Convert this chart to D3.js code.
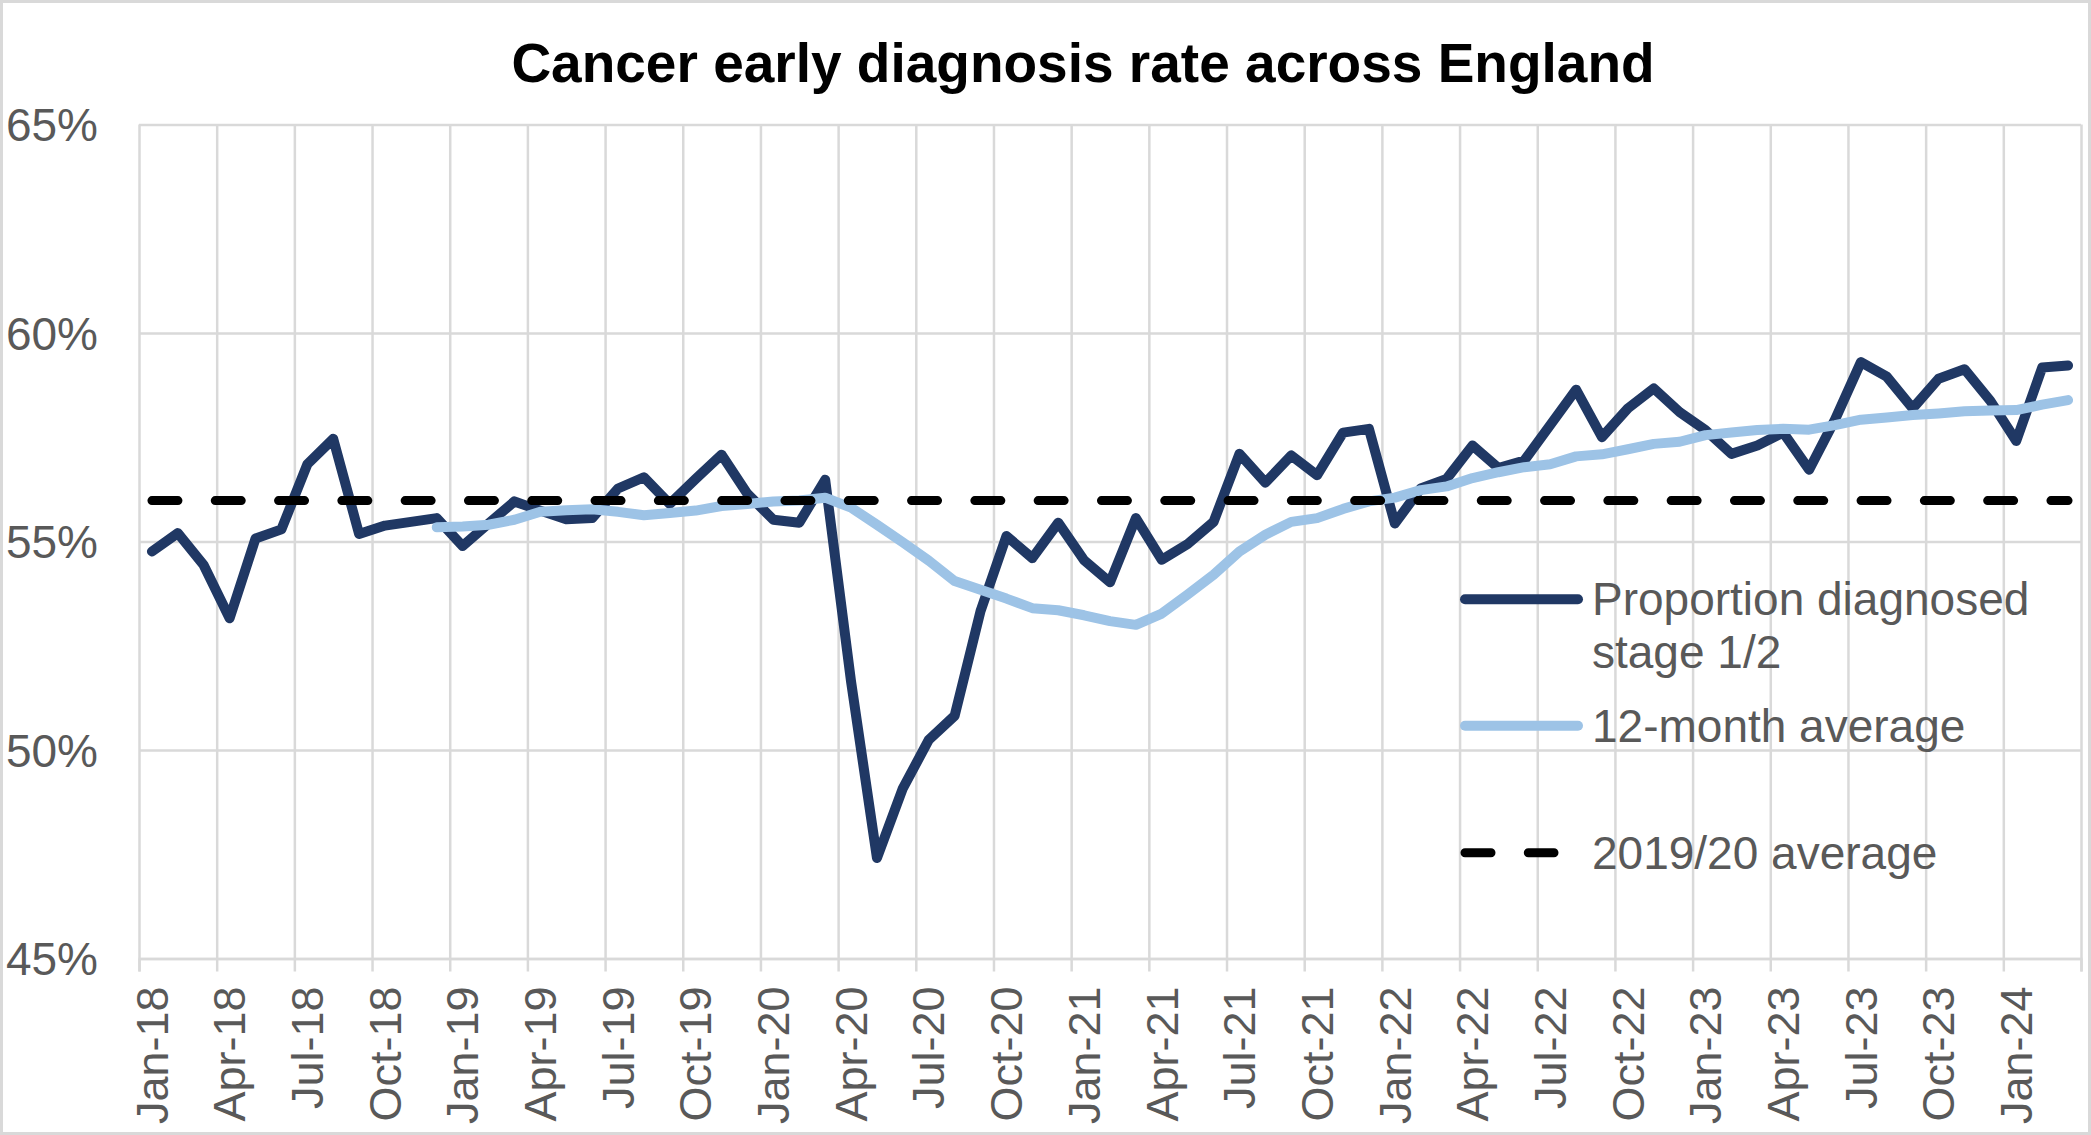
<html>
<head>
<meta charset="utf-8">
<style>
body { margin: 0; background: #fff; }
text { font-family: "Liberation Sans", Arial, sans-serif; }
</style>
<script src="https://d3js.org/d3.v7.min.js"></script>
</head>
<body>
<div id="chart"></div>
<script>
// months Jan-18 .. Mar-24
const months = [
  "2018-01","2018-02","2018-03","2018-04","2018-05","2018-06","2018-07","2018-08","2018-09","2018-10","2018-11","2018-12",
  "2019-01","2019-02","2019-03","2019-04","2019-05","2019-06","2019-07","2019-08","2019-09","2019-10","2019-11","2019-12",
  "2020-01","2020-02","2020-03","2020-04","2020-05","2020-06","2020-07","2020-08","2020-09","2020-10","2020-11","2020-12",
  "2021-01","2021-02","2021-03","2021-04","2021-05","2021-06","2021-07","2021-08","2021-09","2021-10","2021-11","2021-12",
  "2022-01","2022-02","2022-03","2022-04","2022-05","2022-06","2022-07","2022-08","2022-09","2022-10","2022-11","2022-12",
  "2023-01","2023-02","2023-03","2023-04","2023-05","2023-06","2023-07","2023-08","2023-09","2023-10","2023-11","2023-12",
  "2024-01","2024-02","2024-03"
];

// proportion diagnosed at stage 1/2 (%)
const stage12 = [
  54.76,55.20,54.43,53.16,55.07,55.29,56.85,57.46,55.18,55.38,55.47,55.56,
  54.89,55.43,55.96,55.74,55.53,55.56,56.27,56.54,55.90,56.50,57.08,56.14,
  55.52,55.45,56.48,51.64,47.41,49.08,50.24,50.82,53.33,55.13,54.60,55.45,
  54.55,54.02,55.56,54.56,54.94,55.47,57.10,56.41,57.06,56.59,57.61,57.70,
  55.43,56.27,56.50,57.30,56.76,56.94,57.79,58.64,57.50,58.19,58.67,58.10,
  57.67,57.10,57.30,57.61,56.72,57.92,59.30,58.95,58.19,58.90,59.13,58.37,
  57.41,59.17,59.22
];

// 12-month rolling average (%), starts Dec-18
const avg12 = [
  null,null,null,null,null,null,null,null,null,null,null,55.34,
  55.36,55.40,55.52,55.71,55.75,55.77,55.71,55.63,55.68,55.74,55.85,55.90,
  55.96,55.98,56.05,55.81,55.40,54.98,54.54,54.05,53.84,53.63,53.40,53.35,
  53.23,53.09,53.00,53.27,53.73,54.20,54.76,55.16,55.47,55.56,55.78,55.96,
  56.05,56.23,56.32,56.52,56.66,56.78,56.85,57.04,57.09,57.21,57.34,57.39,
  57.55,57.61,57.67,57.70,57.68,57.79,57.92,57.97,58.03,58.07,58.12,58.14,
  58.15,58.28,58.39
];

// 2019/20 average (%)
const baseline = 55.98;

const yTicks = [45, 50, 55, 60, 65];
const xLabels = ["Jan-18","Apr-18","Jul-18","Oct-18","Jan-19","Apr-19","Jul-19","Oct-19",
  "Jan-20","Apr-20","Jul-20","Oct-20","Jan-21","Apr-21","Jul-21","Oct-21",
  "Jan-22","Apr-22","Jul-22","Oct-22","Jan-23","Apr-23","Jul-23","Oct-23","Jan-24"];

const legendItems = [
  {lines: ["Proportion diagnosed", "stage 1/2"], color: "#203864", dash: null},
  {lines: ["12-month average"], color: "#9DC3E6", dash: null},
  {lines: ["2019/20 average"], color: "#000000", dash: "26,37.3"}
];

const w = 2091, h = 1135;
const plotL = 139, plotR = 2081, plotT = 124.4, plotB = 958.5;
const textGrey = "#595959", gridGrey = "#D9D9D9";

const svg = d3.select("#chart").append("svg")
  .attr("width", w).attr("height", h);

svg.append("rect")
  .attr("x", 1.5).attr("y", 1.5).attr("width", w - 3).attr("height", h - 3)
  .attr("fill", "#fff").attr("stroke", gridGrey).attr("stroke-width", 3);

const x = d3.scaleBand().domain(months).range([plotL, plotR]).padding(0);
const xIdx = d3.scaleLinear().domain([0, months.length]).range([plotL, plotR]);
const y = d3.scaleLinear().domain([45, 65]).range([plotB, plotT]);
const cx = m => x(m) + x.bandwidth() / 2;

// horizontal gridlines + y labels
const yAxis = svg.append("g")
  .attr("transform", `translate(${plotL},0)`)
  .call(d3.axisLeft(y).tickValues(yTicks).tickFormat(d => d + "%")
    .tickSize(-(plotR - plotL)).tickPadding(41));
yAxis.select(".domain").remove();
yAxis.selectAll("line").attr("stroke", gridGrey).attr("stroke-width", 2.5);
yAxis.selectAll("text").attr("fill", textGrey).style("font-size", "46px")
  .attr("dy", "0.35em");

// vertical gridlines every quarter
const gridTicks = d3.range(0, months.length + 1, 3);
const vGrid = svg.append("g")
  .attr("transform", `translate(0,${plotB})`)
  .call(d3.axisBottom(xIdx).tickValues(gridTicks).tickFormat("")
    .tickSize(-(plotB - plotT)));
vGrid.select(".domain").remove();
vGrid.selectAll("line").attr("stroke", gridGrey).attr("stroke-width", 2.5);

// small tick marks below axis
const tMarks = svg.append("g")
  .attr("transform", `translate(0,${plotB})`)
  .call(d3.axisBottom(xIdx).tickValues(gridTicks).tickFormat("").tickSize(13));
tMarks.select(".domain").attr("stroke", gridGrey).attr("stroke-width", 2.5);
tMarks.selectAll("line").attr("stroke", gridGrey).attr("stroke-width", 2.5);

// x labels (rotated)
const labelMonths = months.filter((m, i) => i % 3 === 0);
const xAxis = svg.append("g")
  .attr("transform", `translate(0,${plotB})`)
  .call(d3.axisBottom(x).tickValues(labelMonths)
    .tickFormat((d, i) => xLabels[i]).tickSize(0).tickPadding(0));
xAxis.select(".domain").remove();
xAxis.selectAll("text")
  .attr("fill", textGrey).style("font-size", "45px")
  .attr("text-anchor", "end")
  .attr("y", 0).attr("dy", "0.35em")
  .attr("transform", "translate(0,28) rotate(-90)");

// series
const line = d3.line()
  .defined(d => d[1] != null)
  .x(d => cx(d[0]))
  .y(d => y(d[1]));

svg.append("path")
  .datum(months.map((m, i) => [m, stage12[i]]))
  .attr("d", line)
  .attr("fill", "none").attr("stroke", "#203864").attr("stroke-width", 10)
  .attr("stroke-linejoin", "round").attr("stroke-linecap", "round");

svg.append("path")
  .datum(months.map((m, i) => [m, avg12[i]]))
  .attr("d", line)
  .attr("fill", "none").attr("stroke", "#9DC3E6").attr("stroke-width", 10)
  .attr("stroke-linejoin", "round").attr("stroke-linecap", "round");

svg.append("path")
  .datum(months.map(m => [m, baseline]))
  .attr("d", line)
  .attr("fill", "none").attr("stroke", "#000").attr("stroke-width", 9)
  .attr("stroke-dasharray", "26,37.3").attr("stroke-linecap", "round");

// title
svg.append("text")
  .attr("x", 1083).attr("y", 82)
  .attr("text-anchor", "middle")
  .style("font-size", "55px").style("font-weight", "bold")
  .attr("fill", "#000")
  .text("Cancer early diagnosis rate across England");

// legend
const legY = [599.3, 725.8, 852.7];
const lg = svg.append("g");
legendItems.forEach((it, i) => {
  lg.append("line")
    .attr("x1", 1465).attr("x2", it.dash ? 1554 : 1578)
    .attr("y1", legY[i]).attr("y2", legY[i])
    .attr("stroke", it.color).attr("stroke-width", it.dash ? 9 : 10)
    .attr("stroke-linecap", "round")
    .attr("stroke-dasharray", it.dash);
  const t = lg.append("text")
    .attr("x", 1592).attr("y", legY[i] + 16)
    .attr("fill", textGrey).style("font-size", "46px");
  it.lines.forEach((s, k) => {
    t.append("tspan").attr("x", 1592).attr("dy", k === 0 ? 0 : 52.5).text(s);
  });
});
</script>
</body>
</html>
